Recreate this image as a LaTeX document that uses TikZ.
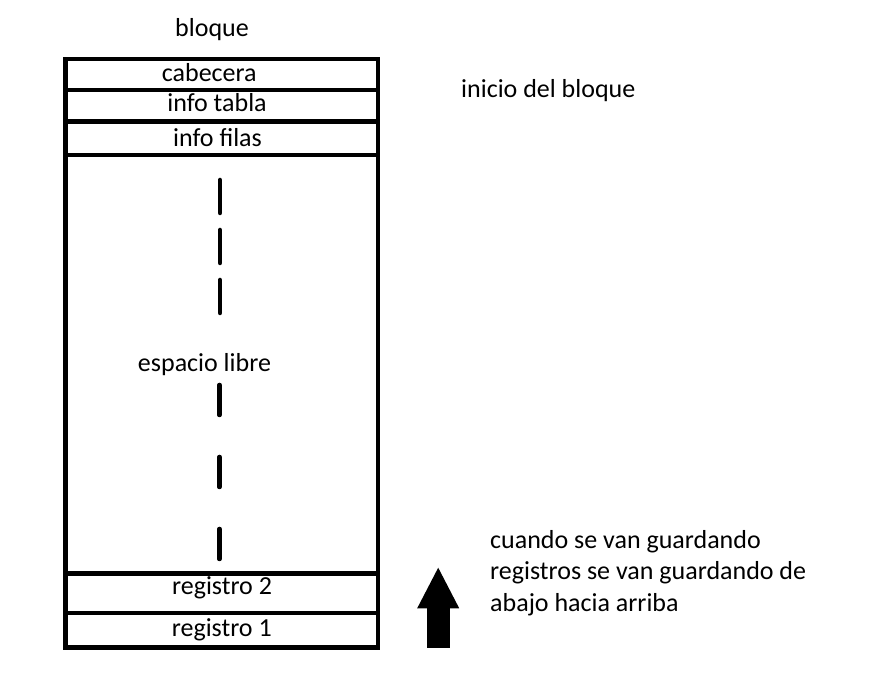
\documentclass[tikz,border=0pt]{standalone}
\usepackage{fontspec}
\setmainfont{Carlito}
\usetikzlibrary{arrows.meta,positioning}

\begin{document}
\begin{tikzpicture}[x=1pt,y=1pt,
  every node/.style={font=\fontsize{26}{31.7}\selectfont,inner sep=0pt},
  fila/.style={draw,line width=4.5pt,minimum width=312.5pt,outer sep=0pt},
  rotulo/.style={anchor=base},
  guion/.style={line width=4.5pt,line cap=round}]

\useasboundingbox (0,0) rectangle (875,682);

% filas del bloque
\node[fila,minimum height=31pt] (cab) at (221.75,607.5) {};
\node[fila,minimum height=31.5pt] (tabla) [below=0pt of cab] {};
\node[fila,minimum height=33.5pt] (filas) [below=0pt of tabla] {};
\node[fila,minimum height=418.5pt] (libre) [below=0pt of filas] {};
\node[fila,minimum height=39.5pt] (reg2) [below=0pt of libre] {};
\node[fila,minimum height=34.5pt] (reg1) [below=0pt of reg2] {};

\node[rotulo] (bloque) at ([xshift=-9.75pt,yshift=22.3pt]cab.north) {bloque};
\node[rotulo] (t_cab) at ([xshift=-12.5pt,yshift=-7.2pt]cab.center) {cabecera};
\node[rotulo] (t_tabla) at ([xshift=-4.75pt,yshift=-6pt]tabla.center) {info tabla};
\node[rotulo] (t_filas) at ([xshift=-4.25pt,yshift=-8.4pt]filas.center) {info filas};
\node[rotulo] (t_libre) at ([xshift=-17.25pt,yshift=-7.75pt]libre.center) {espacio libre};
\node[rotulo] (t_reg2) at ([xshift=0.25pt,yshift=-1.75pt]reg2.center) {registro 2};
\node[rotulo] (t_reg1) at ([yshift=-6.45pt]reg1.center) {registro 1};

% espacio libre
\draw[guion,dash pattern=on 33pt off 17pt] (220,502) -- (220,367);
\draw[guion,dash pattern=on 30pt off 42pt] (219.5,297) -- (219.5,123);

\node[anchor=base west] (inicio) at (461,584) {inicio del bloque};

% crecimiento de los registros
\coordinate (pie) at (438.2,34.3);
\coordinate (punta) at (438.2,115.3);
\draw[line width=22.6pt,-{Triangle[width=38.7pt,length=41.6pt]}] (pie) -- (punta);

\node[anchor=base west,align=left] (nota) at (490,70.3)
  {cuando se van guardando\\registros se van guardando de\\abajo hacia arriba};

\end{tikzpicture}
\end{document}
